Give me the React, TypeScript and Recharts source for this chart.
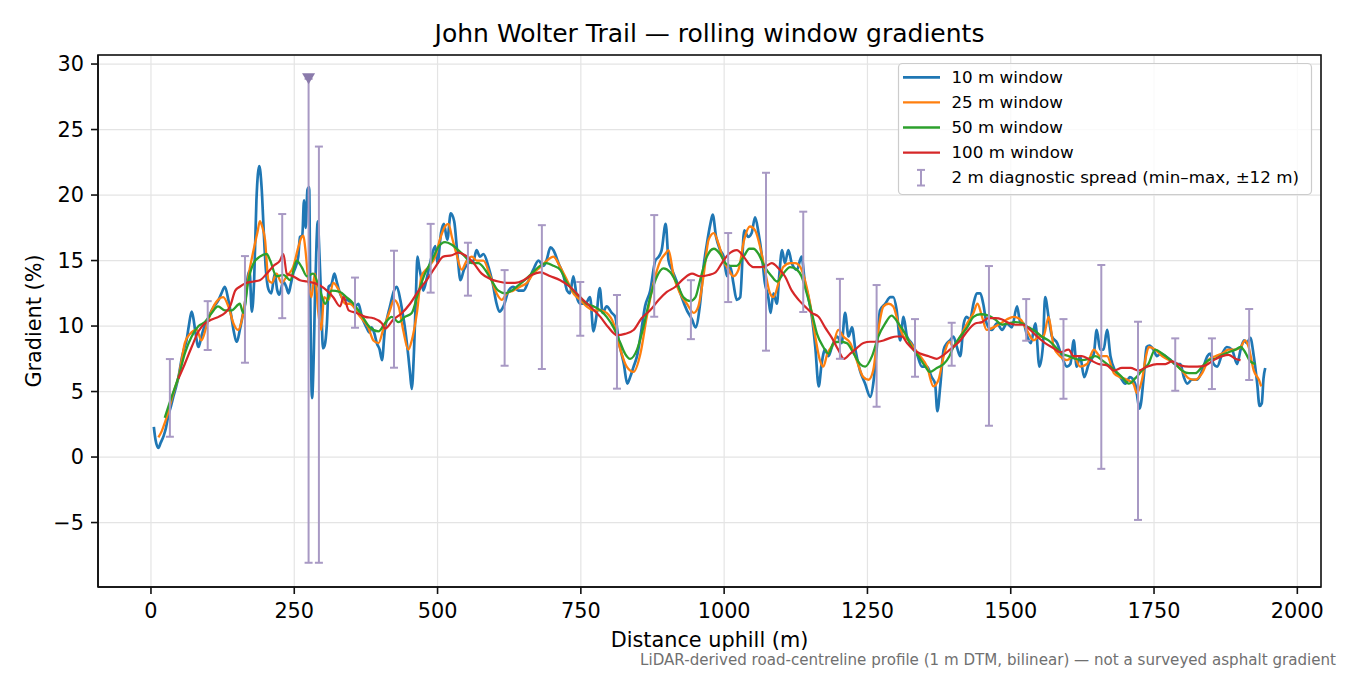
import React from 'react';
import { ComposedChart, Line, Scatter, ErrorBar, XAxis, YAxis, CartesianGrid } from 'recharts';

const FONT = '"DejaVu Sans", Verdana, sans-serif';

// [distance uphill (m), gradient (%)]
const win10: [number, number][] = [
  [5, 2.3], [8, 1.3], [13, 0.7], [17, 1.1], [22, 1.6], [26, 2.2], [30, 3.1], [35, 3.9], [39, 4.6], [44, 5.4],
  [48, 6.1], [54, 7.6], [58, 8.3], [62, 8.9], [66, 10.0], [71, 11.1], [74, 10.6], [77, 9.7], [83, 8.4], [88, 9.2],
  [92, 9.8], [97, 10.2], [101, 10.7], [106, 11.2], [112, 11.6], [118, 12.0], [123, 12.5], [129, 13.0], [135, 12.0], [140, 10.8],
  [144, 9.7], [150, 8.8], [155, 9.7], [160, 10.8], [164, 11.7], [169, 13.8], [172, 14.2], [176, 11.1], [180, 13.5], [184, 19.6],
  [189, 22.2], [193, 20.6], [197, 17.0], [200, 14.6], [205, 12.8], [210, 12.5], [216, 14.0], [220, 12.8], [224, 12.4], [231, 13.4],
  [236, 13.0], [240, 12.5], [244, 13.2], [248, 14.0], [253, 14.6], [257, 15.3], [260, 16.8], [264, 16.9], [267, 19.6], [270, 17.5],
  [273, 20.4], [276, 20.6], [278, 12.0], [281, 4.5], [284, 7.8], [286, 12.0], [289, 16.5], [291, 18.0], [294, 15.4], [297, 12.0],
  [300, 8.3], [303, 8.5], [307, 10.2], [310, 13.0], [315, 13.2], [320, 14.0], [324, 13.4], [327, 12.9], [333, 12.2], [338, 12.0],
  [342, 12.0], [349, 11.8], [356, 11.5], [362, 11.7], [368, 10.7], [376, 9.9], [381, 9.5], [385, 9.9], [390, 9.4], [394, 8.7],
  [399, 8.2], [403, 7.4], [408, 9.7], [413, 10.8], [417, 11.5], [424, 12.7], [429, 13.0], [435, 12.0], [439, 11.0], [443, 9.9],
  [449, 7.7], [452, 6.4], [455, 5.2], [459, 8.2], [462, 12.0], [465, 15.3], [468, 14.5], [471, 13.8], [475, 12.7], [482, 13.8],
  [488, 15.0], [496, 16.1], [500, 14.8], [506, 17.1], [511, 17.8], [517, 16.6], [523, 18.6], [529, 18.0], [535, 15.3], [540, 13.5],
  [546, 14.3], [554, 14.8], [563, 15.0], [568, 15.8], [574, 15.3], [580, 15.5], [589, 14.5], [596, 13.3], [603, 11.7], [608, 11.1],
  [615, 11.5], [624, 12.7], [632, 13.0], [641, 12.7], [650, 12.7], [659, 13.5], [667, 14.3], [676, 15.0], [685, 14.6], [690, 15.0],
  [697, 16.0], [702, 15.8], [711, 14.8], [720, 13.8], [726, 12.7], [731, 12.5], [737, 13.8], [743, 12.2], [749, 11.7], [758, 11.7],
  [766, 12.2], [772, 9.6], [777, 10.7], [783, 12.9], [788, 11.0], [795, 11.5], [804, 11.0], [810, 10.7], [816, 8.9], [825, 7.1],
  [831, 5.6], [836, 6.1], [842, 6.9], [848, 7.7], [854, 9.2], [862, 11.5], [871, 12.7], [880, 15.0], [886, 15.3], [891, 15.8],
  [898, 17.8], [903, 15.0], [909, 14.3], [918, 13.3], [926, 12.2], [935, 11.2], [944, 10.5], [950, 9.9], [958, 11.7], [964, 14.5],
  [970, 16.3], [976, 17.8], [980, 18.5], [986, 16.8], [993, 15.8], [999, 15.3], [1005, 13.8], [1011, 14.5], [1016, 13.3], [1022, 12.0],
  [1028, 12.2], [1035, 17.3], [1042, 16.8], [1048, 17.1], [1054, 18.3], [1060, 17.1], [1066, 15.3], [1071, 13.3], [1077, 12.2], [1081, 11.0],
  [1086, 12.5], [1092, 11.7], [1096, 13.8], [1101, 15.8], [1106, 14.8], [1112, 15.8], [1118, 14.8], [1127, 14.3], [1135, 15.3], [1141, 13.3],
  [1147, 12.2], [1153, 10.7], [1159, 8.4], [1165, 5.4], [1170, 7.1], [1176, 8.2], [1182, 7.7], [1188, 8.4], [1197, 9.2], [1205, 8.7],
  [1211, 11.0], [1217, 9.2], [1223, 9.9], [1229, 8.2], [1237, 6.6], [1246, 5.6], [1255, 4.6], [1261, 5.9], [1266, 8.2], [1272, 11.2],
  [1281, 11.7], [1290, 12.2], [1295, 12.2], [1301, 11.2], [1307, 8.9], [1313, 10.7], [1319, 9.2], [1327, 8.7], [1336, 7.9], [1345, 6.9],
  [1354, 6.9], [1362, 6.1], [1368, 5.6], [1372, 3.5], [1377, 5.4], [1383, 8.2], [1389, 8.7], [1394, 8.9], [1400, 9.2], [1406, 8.4],
  [1412, 7.7], [1418, 10.2], [1423, 10.7], [1429, 10.5], [1435, 11.7], [1441, 12.5], [1447, 12.5], [1452, 11.7], [1458, 10.2], [1467, 9.7],
  [1476, 10.2], [1485, 9.7], [1493, 10.2], [1502, 9.9], [1511, 11.5], [1517, 10.2], [1522, 10.2], [1529, 9.2], [1535, 8.7], [1543, 10.2],
  [1550, 6.9], [1556, 8.4], [1560, 12.2], [1566, 10.7], [1572, 9.2], [1581, 8.7], [1589, 7.7], [1598, 6.9], [1604, 7.1], [1610, 8.9],
  [1615, 6.9], [1621, 7.7], [1628, 6.1], [1636, 7.1], [1645, 7.9], [1650, 9.7], [1656, 8.2], [1662, 8.2], [1668, 9.7], [1674, 7.7],
  [1682, 6.6], [1691, 6.1], [1700, 5.6], [1708, 6.1], [1717, 5.6], [1725, 3.7], [1732, 6.1], [1737, 8.4], [1742, 8.5], [1749, 8.2],
  [1755, 7.7], [1761, 7.9], [1770, 7.7], [1779, 7.4], [1787, 7.1], [1796, 7.1], [1802, 6.1], [1808, 5.6], [1816, 5.9], [1825, 5.9],
  [1834, 6.6], [1843, 7.7], [1848, 7.9], [1854, 7.1], [1860, 6.9], [1869, 7.9], [1877, 8.4], [1886, 8.2], [1895, 7.1], [1901, 8.2],
  [1907, 8.9], [1912, 8.7], [1918, 9.1], [1924, 7.7], [1930, 5.6], [1934, 3.9], [1938, 4.1], [1941, 6.0], [1944, 6.8],
];

const win25: [number, number][] = [
  [13, 1.5], [19, 2.0], [24, 2.6], [30, 3.4], [36, 4.4], [42, 5.3], [48, 6.1], [54, 7.5], [59, 8.7], [68, 9.4],
  [80, 9.7], [88, 8.9], [97, 10.0], [106, 11.2], [117, 12.0], [126, 12.2], [135, 11.5], [144, 10.2], [152, 9.7], [161, 11.0],
  [170, 13.8], [179, 15.8], [186, 17.2], [190, 18.0], [194, 17.6], [199, 16.6], [205, 13.5], [211, 13.3], [219, 14.0], [228, 13.3],
  [237, 13.8], [248, 14.5], [257, 16.0], [263, 16.8], [266, 16.9], [269, 16.0], [275, 13.3], [280, 12.2], [286, 14.0], [292, 11.0],
  [297, 9.7], [302, 12.2], [310, 12.0], [318, 13.3], [327, 12.8], [339, 11.7], [347, 11.7], [365, 10.7], [379, 9.9], [388, 8.9],
  [397, 8.7], [405, 9.7], [417, 11.2], [424, 12.0], [432, 11.5], [440, 9.7], [449, 8.2], [455, 8.9], [464, 11.0], [472, 13.8],
  [484, 14.5], [496, 15.3], [504, 16.6], [513, 17.6], [519, 17.8], [525, 16.8], [533, 15.5], [542, 14.3], [551, 15.0], [560, 15.3],
  [568, 15.0], [580, 15.0], [592, 13.8], [603, 12.5], [612, 12.0], [621, 12.5], [632, 12.7], [644, 13.0], [656, 13.3], [667, 14.0],
  [679, 14.5], [691, 15.0], [702, 15.3], [714, 14.5], [726, 13.5], [737, 12.5], [749, 12.0], [760, 11.5], [772, 11.2], [784, 11.2],
  [795, 11.0], [807, 10.2], [819, 8.2], [830, 6.9], [842, 6.5], [854, 7.9], [865, 10.7], [877, 13.3], [889, 15.0], [897, 15.5],
  [903, 15.8], [912, 13.8], [923, 12.5], [935, 11.7], [947, 11.0], [955, 11.5], [964, 13.8], [973, 16.6], [982, 17.1], [990, 16.3],
  [999, 15.0], [1008, 14.3], [1016, 13.8], [1025, 14.3], [1035, 16.6], [1045, 17.6], [1054, 17.3], [1063, 16.0], [1071, 14.3], [1080, 12.5],
  [1086, 12.2], [1095, 13.3], [1103, 14.5], [1115, 14.8], [1124, 14.8], [1133, 14.5], [1141, 13.5], [1150, 11.7], [1159, 9.2], [1167, 7.4],
  [1173, 6.9], [1180, 7.9], [1191, 8.7], [1199, 9.7], [1208, 9.2], [1220, 8.7], [1231, 7.4], [1243, 6.1], [1252, 5.9], [1260, 6.6],
  [1269, 9.7], [1278, 11.5], [1287, 11.7], [1295, 11.5], [1304, 10.2], [1313, 9.2], [1322, 8.9], [1330, 8.4], [1342, 7.7], [1354, 6.9],
  [1365, 5.4], [1374, 5.9], [1383, 7.7], [1393, 8.8], [1400, 8.4], [1412, 9.2], [1424, 10.2], [1435, 11.0], [1442, 11.7], [1450, 10.7],
  [1458, 9.7], [1470, 9.9], [1482, 10.2], [1493, 10.5], [1505, 10.7], [1517, 10.5], [1528, 9.7], [1540, 8.9], [1549, 9.2], [1557, 9.2],
  [1566, 10.7], [1575, 8.4], [1586, 7.7], [1598, 7.4], [1610, 7.7], [1621, 6.9], [1633, 7.1], [1645, 8.2], [1656, 7.7], [1668, 7.7],
  [1680, 6.4], [1691, 6.1], [1703, 5.9], [1714, 5.6], [1720, 4.9], [1729, 5.9], [1736, 7.7], [1741, 8.4], [1752, 8.2], [1764, 7.7],
  [1776, 7.4], [1787, 7.1], [1799, 6.6], [1811, 6.0], [1822, 5.9], [1834, 6.4], [1845, 7.4], [1857, 7.7], [1869, 7.9], [1880, 8.2],
  [1892, 8.2], [1901, 8.4], [1909, 8.9], [1915, 8.4], [1924, 6.6], [1933, 5.9], [1937, 5.4],
];

const win50: [number, number][] = [
  [24, 3.0], [36, 4.6], [48, 6.1], [59, 7.9], [71, 9.2], [83, 10.0], [94, 10.3], [106, 11.0], [117, 11.5], [129, 11.2],
  [141, 11.2], [155, 11.7], [161, 11.0], [170, 13.5], [179, 14.8], [190, 15.3], [202, 15.5], [208, 15.0], [219, 13.8], [231, 13.9],
  [243, 13.5], [254, 15.0], [263, 14.5], [272, 13.8], [283, 14.0], [295, 12.7], [304, 11.7], [315, 12.7], [330, 12.6], [341, 12.2],
  [347, 12.0], [365, 11.0], [382, 9.9], [397, 9.6], [408, 10.2], [420, 10.7], [432, 10.3], [443, 10.7], [455, 11.0], [466, 12.5],
  [478, 14.0], [490, 15.0], [501, 16.0], [513, 16.4], [525, 16.2], [536, 15.8], [548, 15.3], [560, 14.8], [571, 14.8], [583, 14.3],
  [594, 13.5], [606, 12.7], [618, 12.5], [629, 12.7], [641, 13.1], [652, 13.5], [664, 14.0], [676, 14.5], [690, 14.8], [702, 14.6],
  [714, 14.3], [726, 13.3], [737, 12.7], [749, 12.2], [760, 11.7], [772, 11.5], [784, 11.2], [795, 10.7], [807, 9.9], [819, 8.7],
  [827, 7.9], [836, 7.5], [848, 8.2], [859, 9.9], [871, 12.2], [883, 13.8], [894, 14.4], [906, 14.1], [917, 13.3], [929, 12.2],
  [941, 11.9], [950, 12.2], [958, 13.5], [970, 15.3], [982, 15.9], [993, 15.5], [1002, 14.8], [1011, 14.6], [1022, 14.6], [1034, 15.3],
  [1044, 15.9], [1051, 15.9], [1060, 15.5], [1071, 14.5], [1083, 13.8], [1092, 13.4], [1103, 14.0], [1115, 14.5], [1127, 14.3], [1135, 13.8],
  [1144, 12.5], [1153, 11.0], [1162, 9.4], [1173, 8.4], [1182, 7.9], [1191, 8.7], [1202, 8.8], [1214, 8.7], [1226, 7.9], [1237, 7.1],
  [1246, 6.9], [1258, 7.7], [1269, 9.2], [1281, 10.2], [1292, 10.8], [1304, 10.2], [1316, 9.4], [1327, 8.4], [1339, 7.7], [1351, 6.9],
  [1359, 6.5], [1371, 6.8], [1383, 7.1], [1393, 7.7], [1400, 8.4], [1412, 9.2], [1424, 9.9], [1435, 10.7], [1447, 10.9], [1461, 10.8],
  [1473, 10.5], [1485, 10.1], [1496, 10.2], [1508, 10.3], [1520, 10.2], [1531, 9.9], [1543, 9.6], [1554, 9.2], [1566, 8.9], [1578, 8.4],
  [1589, 7.9], [1601, 7.7], [1613, 7.5], [1624, 7.4], [1636, 7.5], [1648, 7.7], [1659, 7.4], [1671, 7.0], [1682, 6.6], [1694, 6.1],
  [1706, 5.6], [1717, 6.0], [1729, 6.6], [1740, 7.1], [1752, 8.2], [1764, 7.9], [1776, 7.5], [1787, 7.1], [1799, 6.6], [1811, 6.4],
  [1822, 6.4], [1834, 6.9], [1845, 7.4], [1857, 7.5], [1869, 7.8], [1880, 8.0], [1892, 8.2], [1901, 8.4], [1909, 8.0], [1918, 7.3],
  [1927, 7.1],
];

const win100: [number, number][] = [
  [48, 6.0], [59, 7.1], [71, 8.4], [83, 9.6], [94, 10.2], [106, 10.5], [118, 10.7], [129, 11.0], [138, 11.5], [147, 12.7],
  [155, 13.0], [167, 13.3], [179, 13.4], [190, 13.5], [202, 14.0], [214, 14.6], [225, 15.0], [231, 15.5], [237, 14.0], [248, 13.8],
  [260, 13.5], [272, 13.4], [283, 13.3], [295, 13.1], [307, 12.7], [318, 12.2], [330, 11.5], [336, 12.2], [345, 11.2], [359, 11.0],
  [374, 10.7], [388, 10.6], [403, 10.2], [408, 9.8], [423, 10.5], [438, 11.0], [452, 11.7], [467, 12.7], [481, 13.5], [496, 14.5],
  [510, 15.3], [525, 15.4], [536, 15.6], [548, 15.4], [563, 14.8], [577, 14.0], [592, 13.6], [606, 13.4], [621, 13.3], [635, 13.3],
  [650, 13.5], [664, 13.9], [679, 14.1], [697, 13.8], [714, 13.5], [731, 13.0], [749, 12.2], [766, 11.5], [784, 10.7], [798, 9.9],
  [813, 9.3], [827, 9.4], [842, 9.7], [856, 10.6], [871, 11.2], [886, 12.0], [900, 12.6], [915, 13.0], [929, 13.6], [944, 14.0],
  [958, 13.8], [973, 13.9], [985, 14.1], [996, 14.8], [1008, 15.5], [1022, 15.8], [1034, 15.3], [1044, 14.7], [1051, 14.5], [1063, 14.5],
  [1074, 14.6], [1083, 14.8], [1095, 14.4], [1106, 13.8], [1118, 12.7], [1130, 12.0], [1141, 11.5], [1153, 11.0], [1165, 10.7], [1176, 9.9],
  [1188, 9.1], [1199, 8.2], [1209, 7.5], [1220, 7.9], [1231, 8.3], [1243, 8.7], [1255, 8.8], [1266, 8.8], [1278, 8.9], [1290, 9.1],
  [1301, 9.2], [1310, 9.2], [1319, 8.7], [1330, 8.2], [1342, 7.9], [1357, 7.7], [1371, 7.5], [1380, 7.7], [1394, 8.2], [1412, 8.9],
  [1426, 9.7], [1438, 10.2], [1450, 10.3], [1461, 10.6], [1473, 10.6], [1485, 10.5], [1493, 10.3], [1508, 10.1], [1522, 10.1], [1534, 9.7],
  [1546, 9.2], [1560, 8.7], [1575, 8.3], [1586, 8.0], [1601, 8.2], [1610, 7.7], [1624, 7.7], [1639, 7.4], [1653, 7.1], [1668, 7.0],
  [1680, 6.6], [1694, 6.8], [1709, 6.8], [1723, 6.6], [1738, 6.9], [1755, 7.1], [1770, 7.1], [1781, 7.3], [1796, 7.0], [1811, 6.9],
  [1825, 6.9], [1840, 7.0], [1854, 7.4], [1869, 7.7], [1880, 7.8], [1892, 7.5], [1901, 7.4],
];

// 2 m diagnostic spread (min / max over ±12 m)
const spreadDist = [33, 99, 164, 229, 275, 293, 356, 424, 488, 553, 617, 682, 749, 813, 878, 942, 1007, 1073, 1138, 1202, 1266, 1333, 1397, 1462, 1527, 1592, 1658, 1722, 1787, 1851, 1916];
const spreadMin = [1.55, 8.17, 7.2, 10.6, -8.07, -8.07, 9.87, 6.82, 12.55, 12.32, 6.97, 6.72, 9.26, 5.22, 10.71, 9.0, 11.83, 8.12, 11.07, 7.5, 3.84, 6.13, 6.97, 2.39, 8.88, 4.45, -0.9, -4.8, 5.06, 5.19, 5.88];
const spreadMax = [7.48, 11.9, 15.34, 18.55, 28.87, 23.7, 13.7, 15.75, 17.8, 16.36, 14.27, 17.7, 13.36, 12.37, 18.47, 13.5, 17.1, 21.7, 18.73, 13.6, 13.13, 10.53, 10.25, 14.58, 12.06, 10.53, 14.66, 10.33, 9.06, 9.06, 11.3];

// steepest 2 m reading, marked at the top of its spread bar
const peakMark = { d: 275, v: 28.87 };

const xTicks = [0, 250, 500, 750, 1000, 1250, 1500, 1750, 2000];
const yTicks = [-5, 0, 5, 10, 15, 20, 25, 30];

const series = [
  { name: '10 m window', rows: win10, color: '#1f77b4', width: 2.7 },
  { name: '25 m window', rows: win25, color: '#ff7f0e', width: 2.3 },
  { name: '50 m window', rows: win50, color: '#2ca02c', width: 2.3 },
  { name: '100 m window', rows: win100, color: '#d62728', width: 2.2 },
];

const SPREAD_COLOR = '#a899c4';

const spreadData = spreadDist.map((d, i) => {
  const mid = (spreadMin[i] + spreadMax[i]) / 2;
  return { d, v: mid, err: [mid - spreadMin[i], spreadMax[i] - mid] };
});

const W = 1350;
const H = 675;
const PLOT = { left: 98, top: 55, right: 1321, bottom: 587 };

const fmtY = (v: number) => (v < 0 ? `\u2212${Math.abs(v)}` : `${v}`);

function DownTriangle(props: any) {
  const { cx, cy } = props;
  return <polygon points={`${cx - 6.5},${cy - 5.5} ${cx + 6.5},${cy - 5.5} ${cx},${cy + 5.5}`} fill="#8a7aab" />;
}

function Overlay() {
  const legendY0 = 77.3;
  const step = 25.1;
  return (
    <svg width={W} height={H} style={{ position: 'absolute', left: 0, top: 0, pointerEvents: 'none' }} fontFamily={FONT}>
      <rect x={PLOT.left} y={PLOT.top} width={PLOT.right - PLOT.left} height={PLOT.bottom - PLOT.top} fill="none" stroke="#111" strokeWidth={1.6} />
      <text x={(PLOT.left + PLOT.right) / 2} y={42} textAnchor="middle" fontSize={25} fill="#000">
        John Wolter Trail — rolling window gradients
      </text>
      <text x={(PLOT.left + PLOT.right) / 2} y={647} textAnchor="middle" fontSize={20.8} fill="#000">
        Distance uphill (m)
      </text>
      <text x={41} y={(PLOT.top + PLOT.bottom) / 2} textAnchor="middle" fontSize={20.8} fill="#000" transform={`rotate(-90 41 ${(PLOT.top + PLOT.bottom) / 2})`}>
        Gradient (%)
      </text>
      <text x={1336} y={665} textAnchor="end" fontSize={15.1} fill="#707070">
        LiDAR-derived road-centreline profile (1 m DTM, bilinear) — not a surveyed asphalt gradient
      </text>
      <g>
        <rect x={898.5} y={63.5} width={413} height={131} rx={4} fill="#fff" fillOpacity={0.8} stroke="#cccccc" strokeWidth={1.2} />
        {series.map((s, i) => (
          <g key={s.name}>
            <line x1={903} x2={940} y1={legendY0 + i * step} y2={legendY0 + i * step} stroke={s.color} strokeWidth={s.width} />
            <text x={951.5} y={legendY0 + i * step + 5.6} fontSize={16.7} fill="#000">
              {s.name}
            </text>
          </g>
        ))}
        <g stroke={SPREAD_COLOR} strokeWidth={2}>
          <line x1={921} x2={921} y1={legendY0 + 4 * step - 7.8} y2={legendY0 + 4 * step + 7.8} />
          <line x1={917} x2={925} y1={legendY0 + 4 * step - 7.8} y2={legendY0 + 4 * step - 7.8} />
          <line x1={917} x2={925} y1={legendY0 + 4 * step + 7.8} y2={legendY0 + 4 * step + 7.8} />
        </g>
        <text x={951.5} y={legendY0 + 4 * step + 5.6} fontSize={16.7} fill="#000">
          2 m diagnostic spread (min–max, ±12 m)
        </text>
      </g>
    </svg>
  );
}

export default function App() {
  const tickStyle = { fill: '#000', fontSize: 20.8, fontFamily: FONT };
  return (
    <div style={{ position: 'absolute', left: 0, top: 0, width: W, height: H, background: '#fff', fontFamily: FONT }}>
      <ComposedChart width={W} height={H} margin={{ top: PLOT.top, right: W - PLOT.right, bottom: 0, left: 0 }}>
        <CartesianGrid stroke="#e4e4e4" strokeWidth={1.2} />
        <XAxis
          dataKey="d"
          type="number"
          domain={[-92.4, 2041.3]}
          ticks={xTicks}
          allowDataOverflow
          height={H - PLOT.bottom}
          tick={tickStyle}
          tickSize={7}
          tickMargin={9}
          tickLine={{ stroke: '#111', strokeWidth: 1.6 }}
          axisLine={{ stroke: '#111', strokeWidth: 1.6 }}
        />
        <YAxis
          dataKey="v"
          type="number"
          domain={[-9.92, 30.69]}
          ticks={yTicks}
          allowDataOverflow
          width={PLOT.left}
          tick={tickStyle}
          tickFormatter={fmtY}
          tickSize={7}
          tickMargin={7}
          tickLine={{ stroke: '#111', strokeWidth: 1.6 }}
          axisLine={{ stroke: '#111', strokeWidth: 1.6 }}
        />
        {series.map((s) => (
          <Line
            key={s.name}
            name={s.name}
            data={s.rows.map(([d, v]) => ({ d, v }))}
            dataKey="v"
            type="monotone"
            stroke={s.color}
            strokeWidth={s.width}
            dot={false}
            activeDot={false}
            isAnimationActive={false}
          />
        ))}
        <Scatter data={spreadData} dataKey="v" shape={() => <g />} isAnimationActive={false}>
          <ErrorBar dataKey="err" direction="y" width={4} stroke={SPREAD_COLOR} strokeWidth={2} isAnimationActive={false} />
        </Scatter>
        <Scatter data={[peakMark]} dataKey="v" shape={DownTriangle} isAnimationActive={false} />
      </ComposedChart>
      <Overlay />
    </div>
  );
}
